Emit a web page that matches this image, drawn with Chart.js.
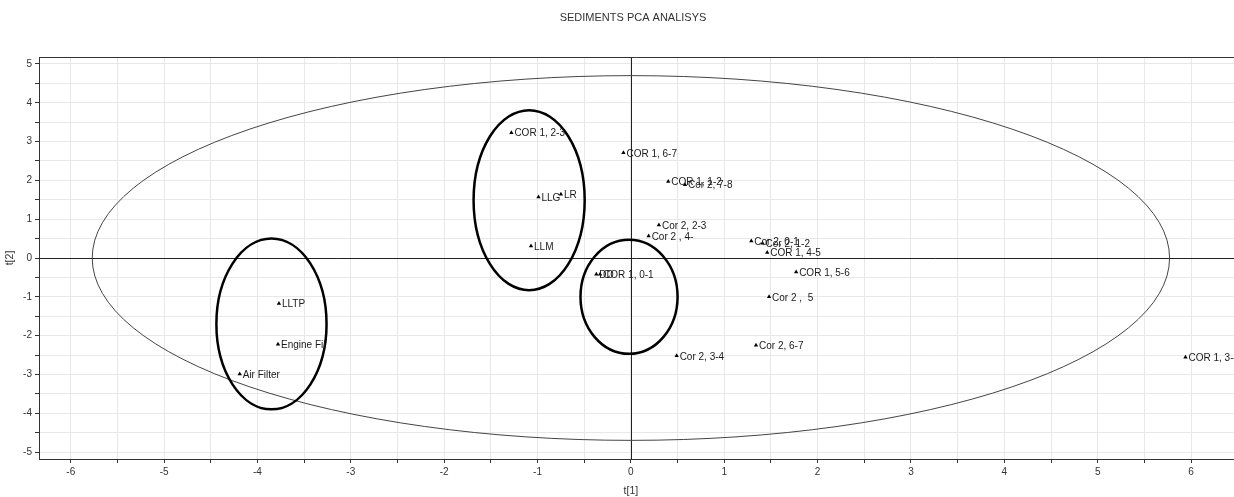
<!DOCTYPE html>
<html lang="en">
  <head>
    <meta charset="UTF-8" />
    <title>SEDIMENTS PCA ANALISYS</title>
    <script src="https://cdn.jsdelivr.net/npm/chart.js"></script>
    <style>
      html, body { margin: 0; padding: 0; background: #fff; overflow: hidden; }
      canvas { display: block; }
    </style>
  </head>
  <body>
    <!-- a few extra px on the right so the plot frame runs off the page edge -->
    <canvas id="pcaChart" width="1238" height="497"></canvas>

    <script>
      // Score values (t[1], t[2])
      const sampleNames = [
        "COR 1, 2-3", "LLG", "LR", "LLM",
        "COR 1, 6-7", "COR 1, 1-2", "Cor 2, 7-8", "Cor 2, 2-3", "Cor 2 , 4-",
        "Cor 2, 0-1", "Cor 2, 1-2", "COR 1, 4-5", "COR 1, 5-6", "Cor 2 ,  5",
        "DD", "COR 1, 0-1",
        "LLTP", "Engine Fil", "Air Filter",
        "Cor 2, 3-4", "Cor 2, 6-7", "COR 1, 3-4"
      ];
      const t1 = [
        -1.28, -0.99, -0.75, -1.07,
        -0.08, 0.40, 0.58, 0.30, 0.19,
        1.29, 1.41, 1.46, 1.77, 1.48,
        -0.37, -0.33,
        -3.77, -3.78, -4.19,
        0.49, 1.34, 5.94
      ];
      const t2 = [
        3.23, 1.57, 1.64, 0.31,
        2.71, 1.97, 1.89, 0.85, 0.57,
        0.44, 0.38, 0.14, -0.36, -1.0,
        -0.42, -0.42,
        -1.17, -2.22, -2.99,
        -2.52, -2.25, -2.56
      ];

      // Hotelling ellipse and the three hand-drawn groupings: [cx, cy, rx, ry]
      const hotelling = [0, 0, 5.77, 4.7];
      const groups = [
        [-3.85, -1.7, 0.59, 2.2],
        [-1.09, 1.49, 0.595, 2.32],
        [-0.02, -1.0, 0.52, 1.47]
      ];

      const points = t1.map((x, i) => ({ x: x, y: t2[i] }));

      const ellipsePlugin = {
        id: "ellipses",
        beforeDatasetsDraw(chart) {
          const ctx = chart.ctx;
          const xs = chart.scales.x;
          const ys = chart.scales.y;
          const area = chart.chartArea;
          function draw(e, width, color) {
            const cx = xs.getPixelForValue(e[0]);
            const cy = ys.getPixelForValue(e[1]);
            const rx = Math.abs(xs.getPixelForValue(e[0] + e[2]) - cx);
            const ry = Math.abs(ys.getPixelForValue(e[1] + e[3]) - cy);
            ctx.beginPath();
            ctx.ellipse(cx, cy, rx, ry, 0, 0, Math.PI * 2);
            ctx.lineWidth = width;
            ctx.strokeStyle = color;
            ctx.stroke();
          }
          ctx.save();
          ctx.beginPath();
          ctx.rect(area.left, area.top, area.right - area.left, area.bottom - area.top);
          ctx.clip();
          // zero axes through the origin
          const x0 = Math.round(xs.getPixelForValue(0)) + 0.5;
          const y0 = Math.round(ys.getPixelForValue(0)) + 0.5;
          ctx.strokeStyle = "#222";
          ctx.lineWidth = 1;
          ctx.beginPath();
          ctx.moveTo(x0, area.top);
          ctx.lineTo(x0, area.bottom);
          ctx.moveTo(area.left, y0);
          ctx.lineTo(area.right, y0);
          ctx.stroke();
          draw(hotelling, 1, "#444");
          groups.forEach((g) => draw(g, 2.5, "#000"));
          ctx.restore();
        },
        afterDatasetsDraw(chart) {
          const ctx = chart.ctx;
          const meta = chart.getDatasetMeta(0);
          const area = chart.chartArea;
          ctx.save();
          ctx.fillStyle = "#1a1a1a";
          ctx.font = "10px 'Liberation Sans', Arial, sans-serif";
          ctx.textBaseline = "middle";
          meta.data.forEach((pt, i) => {
            ctx.fillText(sampleNames[i], pt.x + 3, pt.y + 1);
          });
          // top frame line
          ctx.strokeStyle = "#333";
          ctx.lineWidth = 1;
          ctx.beginPath();
          ctx.moveTo(area.left, area.top + 0.5);
          ctx.lineTo(area.right, area.top + 0.5);
          ctx.stroke();
          // titles
          ctx.fillStyle = "#333";
          ctx.textAlign = "center";
          ctx.font = "11px 'Liberation Sans', Arial, sans-serif";
          ctx.fillText("SEDIMENTS PCA ANALISYS", 633, 18);
          ctx.font = "10.5px 'Liberation Sans', Arial, sans-serif";
          ctx.fillText("t[1]", chart.scales.x.getPixelForValue(0), 491);
          ctx.translate(10, chart.scales.y.getPixelForValue(0));
          ctx.rotate(-Math.PI / 2);
          ctx.fillText("t[2]", 0, 0);
          ctx.restore();
        },
      };

      const chart = new Chart(document.getElementById("pcaChart"), {
        type: "scatter",
        data: {
          datasets: [
            {
              label: "Scores",
              data: points,
              pointStyle: "triangle",
              radius: 2.5,
              backgroundColor: "#000",
              borderColor: "#000",
              borderWidth: 0,
            },
          ],
        },
        options: {
          responsive: false,
          animation: false,
          layout: { padding: { top: 57, right: 0, left: 0, bottom: 0 } },
          plugins: {
            legend: { display: false },
            tooltip: { enabled: false },
          },
          scales: {
            x: {
              type: "linear",
              min: -6.34,
              max: 6.46,
              afterFit: (s) => {
                s.height = 38;
              },
              border: { color: "#333", width: 1 },
              grid: { color: "#e8e8e8", tickColor: "#333", tickLength: 4 },
              ticks: {
                stepSize: 0.5,
                includeBounds: false,
                maxRotation: 0,
                autoSkip: false,
                padding: 3,
                color: "#333",
                font: { family: "'Liberation Sans', Arial, sans-serif", size: 10 },
                callback: (v) => (Number.isInteger(v) ? v : ""),
              },
            },
            y: {
              type: "linear",
              min: -5.18,
              max: 5.18,
              afterFit: (s) => {
                s.width = 39;
              },
              border: { color: "#333", width: 1 },
              grid: { color: "#e8e8e8", tickColor: "#333", tickLength: 4 },
              ticks: {
                stepSize: 0.5,
                includeBounds: false,
                autoSkip: false,
                padding: 3,
                color: "#333",
                font: { family: "'Liberation Sans', Arial, sans-serif", size: 10 },
                callback: (v) => (Number.isInteger(v) ? v : ""),
              },
            },
          },
        },
        plugins: [ellipsePlugin],
      });
    </script>
  </body>
</html>
